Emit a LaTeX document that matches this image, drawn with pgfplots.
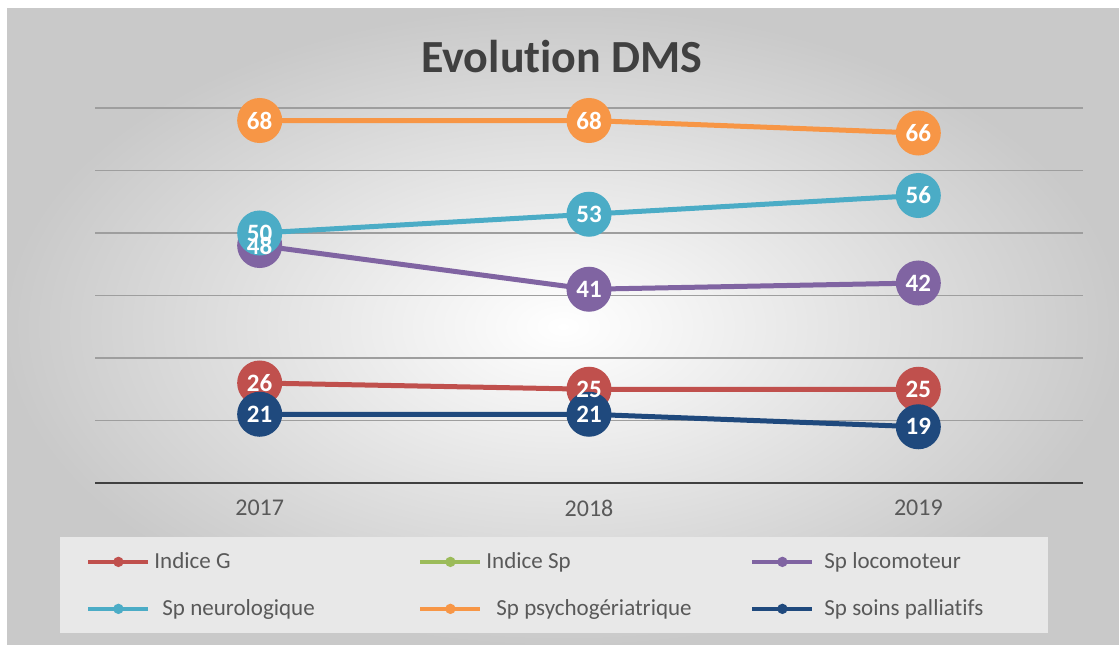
\documentclass[border=0pt]{standalone}
\usepackage{pgfplots}
\pgfplotsset{compat=1.18}
\usepackage{fontspec}
\setmainfont{Carlito}[Ligatures={NoCommon}]
\definecolor{cG}{HTML}{C0504D}
\definecolor{cSp}{HTML}{9BBB59}
\definecolor{cLoc}{HTML}{8064A2}
\definecolor{cNeu}{HTML}{4BACC6}
\definecolor{cPsy}{HTML}{F79646}
\definecolor{cPal}{HTML}{1F497D}
\definecolor{txt}{HTML}{595959}
\newcommand\legcell[1]{\makebox[130pt][l]{#1}}
\newcommand\legcellR[1]{\makebox[100pt][l]{#1}}
\pgfplotsset{
  ser/.style={line width=2.5pt, mark=*, mark size=10pt},
  lbl/.style={draw=none, mark=none, forget plot, point meta=y,
    nodes near coords, every node near coord/.append style={anchor=center,
    text=white, font=\bfseries\fontsize{12.5}{14}\selectfont}},
}

\begin{document}
\begin{tikzpicture}[x=0.5pt,y=0.5pt]
\fill[white] (0,0) rectangle (1119,644);
\shade[inner color=white, outer color=black!21] (7,0) rectangle (1119,635);
\node[font=\bfseries\fontsize{23}{27}\selectfont, text=black!75] at (562,587) {Evolution DMS};
\begin{axis}[
  at={(47.5pt,80.5pt)}, anchor=south west,
  scale only axis, width=494pt, height=187.5pt,
  xmin=-0.5, xmax=2.5, ymin=10, ymax=70,
  clip=false,
  axis x line*=bottom, axis y line*=left,
  x axis line style={-, draw=black!75, line width=1pt},
  y axis line style={draw=none},
  xtick={0,1,2}, xticklabels={2017,2018,2019},
  xticklabel style={font=\fontsize{12}{14}\selectfont, text=txt, yshift=-5pt},
  ytick={20,30,40,50,60,70}, yticklabels={},
  ymajorgrids, major grid style={draw=black!38, line width=0.9pt},
  major tick length=0pt,
  /pgf/number format/assume math mode=true,
  legend columns=3,
  legend style={at={(axis description cs:-0.0354,-0.144)}, anchor=north west,
    fill=black!9, draw=none, inner xsep=13pt, inner ysep=5.5pt,
    font=\fontsize{11.5}{13}\selectfont, text=txt,
    /tikz/every even column/.append style={column sep=0pt},
    row sep=10pt},
  legend cell align=left,
  legend image code/.code={
    \draw[#1, mark=none, line width=2pt] (0pt,0pt) -- (30pt,0pt);
    \fill[#1, draw=none] (15pt,0pt) circle (2.6pt);},
]
\addplot[ser, color=cG] coordinates {(0,26) (1,25) (2,25)};
\addlegendentry{\legcell{Indice G}}
\addlegendimage{color=cSp, line width=2.5pt}
\addlegendentry{\legcell{Indice Sp}}
\addplot[ser, color=cLoc] coordinates {(0,48) (1,41) (2,42)};
\addlegendentry{\legcellR{\hspace{3pt}Sp locomoteur}}
\addplot[ser, color=cNeu] coordinates {(0,50) (1,53) (2,56)};
\addlegendentry{\legcell{\hspace{4pt}Sp neurologique}}
\addplot[ser, color=cPsy] coordinates {(0,68) (1,68) (2,66)};
\addlegendentry{\legcell{\hspace{5pt}Sp psychogériatrique}}
\addplot[ser, color=cPal] coordinates {(0,21) (1,21) (2,19)};
\addlegendentry{\legcellR{\hspace{3pt}Sp soins palliatifs}}
% white value labels on top of the markers
\addplot[lbl] coordinates {(0,26) (1,25) (2,25)};
\addplot[lbl] coordinates {(0,48) (1,41) (2,42)};
\addplot[lbl] coordinates {(0,50) (1,53) (2,56)};
\addplot[lbl] coordinates {(0,68) (1,68) (2,66)};
\addplot[lbl] coordinates {(0,21) (1,21) (2,19)};
\end{axis}
\end{tikzpicture}
\end{document}
